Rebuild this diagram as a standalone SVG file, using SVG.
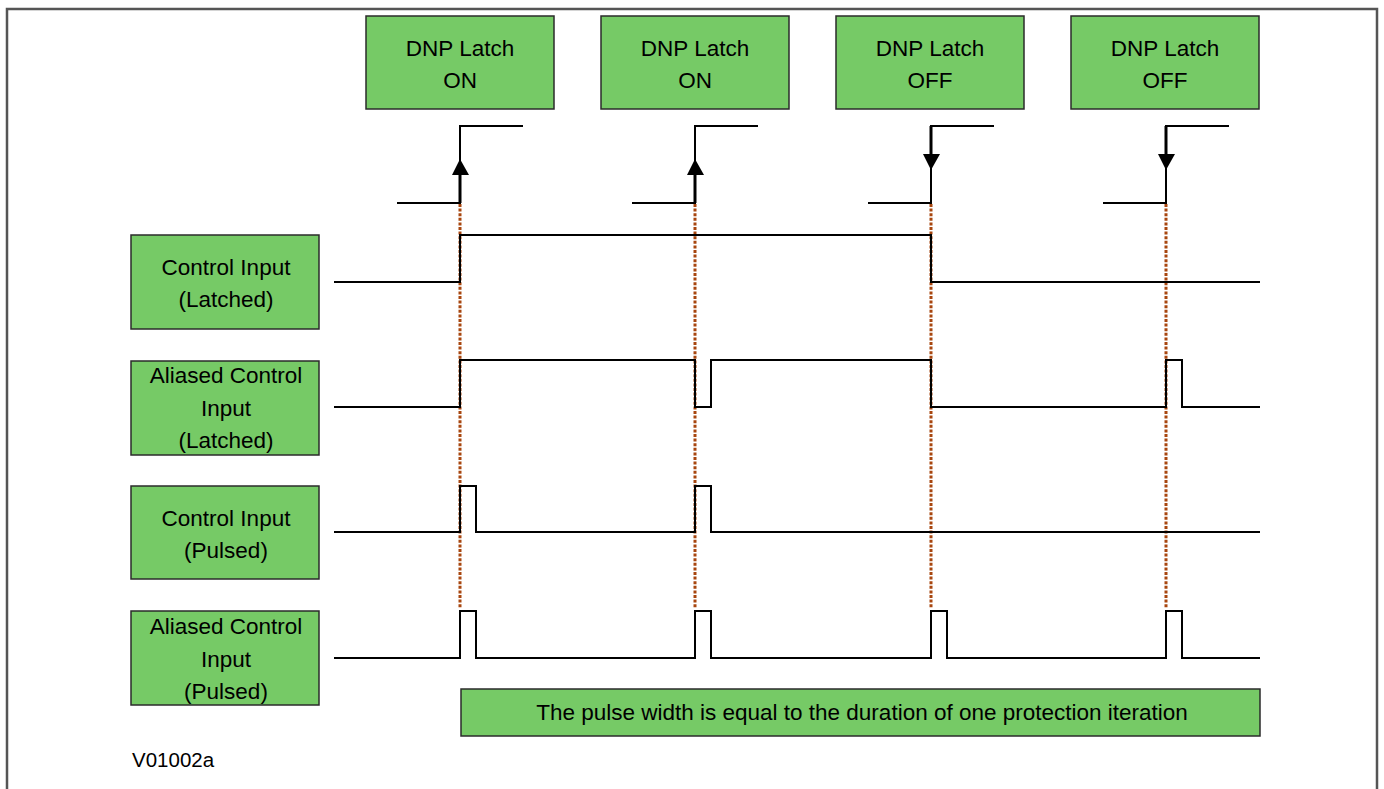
<svg xmlns="http://www.w3.org/2000/svg" width="1384" height="789" viewBox="0 0 1384 789">
<style>
.box{fill:#76CA66;stroke:#2b2b2b;stroke-width:1.5}
.t{font-family:"Liberation Sans",Arial,sans-serif;font-size:22.5px;fill:#000;text-anchor:middle}
.sig{fill:none;stroke:#000;stroke-width:2}
.edge{fill:none;stroke:#000;stroke-width:2}
.dot{stroke:#A8460F;stroke-width:3;stroke-dasharray:3 1.6;fill:none}
</style>
<rect x="0" y="0" width="1384" height="789" fill="#fff"/>
<path d="M7,795 V9 H1377 V795" fill="none" stroke="#555" stroke-width="2.5"/>

<g id="connectors">
<g id="guides">
<line class="dot" x1="460" y1="204" x2="460" y2="608"/>
<line class="dot" x1="695" y1="204" x2="695" y2="608"/>
<line class="dot" x1="931" y1="204" x2="931" y2="608"/>
<line class="dot" x1="1166" y1="204" x2="1166" y2="608"/>
</g>
<g id="edges">
<path class="edge" d="M397,203 H460 V126 H523"/>
<path d="M460,203 V168" stroke="#000" stroke-width="3"/>
<path d="M452,175 L460,159 L469,175 Z" fill="#000"/>
<path class="edge" d="M632,203 H695 V126 H758"/>
<path d="M695,203 V168" stroke="#000" stroke-width="3"/>
<path d="M687,175 L695,159 L704,175 Z" fill="#000"/>
<path class="edge" d="M868,203 H931 V126 H994"/>
<path d="M931,126 V160" stroke="#000" stroke-width="3"/>
<path d="M923,154 L931,170 L940,154 Z" fill="#000"/>
<path class="edge" d="M1103,203 H1166 V126 H1229"/>
<path d="M1166,126 V160" stroke="#000" stroke-width="3"/>
<path d="M1158,154 L1166,170 L1175,154 Z" fill="#000"/>
</g>
<g id="signals">
<path class="sig" d="M334,282 H460 V235 H931 V282 H1260"/>
<path class="sig" d="M334,407 H460 V360 H695 V407 H711 V360 H931 V407 H1166 V360 H1182 V407 H1260"/>
<path class="sig" d="M334,532 H460 V486 H476 V532 H695 V486 H711 V532 H1260"/>
<path class="sig" d="M334,658 H460 V611 H476 V658 H695 V611 H711 V658 H931 V611 H947 V658 H1166 V611 H1182 V658 H1260"/>
</g>
</g>

<g id="latch1"><rect class="box" x="366" y="16" width="188" height="93"/><text class="t" x="460" y="56">DNP Latch</text><text class="t" x="460" y="88">ON</text></g>
<g id="latch2"><rect class="box" x="601" y="16" width="188" height="93"/><text class="t" x="695" y="56">DNP Latch</text><text class="t" x="695" y="88">ON</text></g>
<g id="latch3"><rect class="box" x="836" y="16" width="188" height="93"/><text class="t" x="930" y="56">DNP Latch</text><text class="t" x="930" y="88">OFF</text></g>
<g id="latch4"><rect class="box" x="1071" y="16" width="188" height="93"/><text class="t" x="1165" y="56">DNP Latch</text><text class="t" x="1165" y="88">OFF</text></g>

<g id="ci-latched"><rect class="box" x="131" y="235" width="188" height="94"/><text class="t" x="226" y="275">Control Input</text><text class="t" x="226" y="307">(Latched)</text></g>
<g id="aci-latched"><rect class="box" x="131" y="361" width="188" height="94"/><text class="t" x="226" y="383">Aliased Control</text><text class="t" x="226" y="416">Input</text><text class="t" x="226" y="448">(Latched)</text></g>
<g id="ci-pulsed"><rect class="box" x="131" y="486" width="188" height="93"/><text class="t" x="226" y="526">Control Input</text><text class="t" x="226" y="558">(Pulsed)</text></g>
<g id="aci-pulsed"><rect class="box" x="131" y="611" width="188" height="94"/><text class="t" x="226" y="634">Aliased Control</text><text class="t" x="226" y="667">Input</text><text class="t" x="226" y="699">(Pulsed)</text></g>

<g id="note"><rect class="box" x="461" y="689" width="799" height="47"/><text class="t" x="862" y="720">The pulse width is equal to the duration of one protection iteration</text></g>

<text x="132" y="767" font-family="Liberation Sans, Arial, sans-serif" font-size="20.5" fill="#000">V01002a</text>
</svg>
